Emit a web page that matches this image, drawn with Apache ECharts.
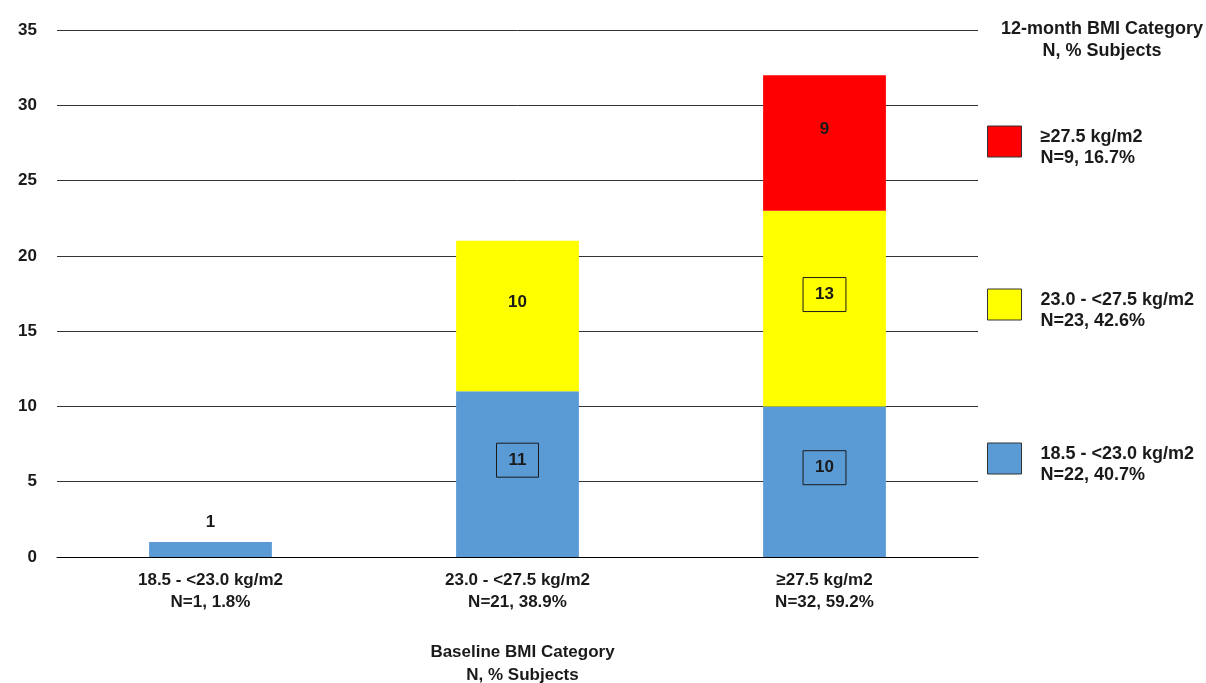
<!DOCTYPE html>
<html>
<head>
<meta charset="utf-8">
<script src="https://cdn.jsdelivr.net/npm/echarts@6/dist/echarts.min.js"></script>
<style>
  html, body { margin: 0; padding: 0; background: #fff; }
  #chart { width: 1206px; height: 683px; }
</style>
</head>
<body>
<div id="chart"></div>
<script>
// Baseline BMI categories (x axis)
const baselineCategories = [
  '18.5 - <23.0 kg/m2\nN=1, 1.8%',
  '23.0 - <27.5 kg/m2\nN=21, 38.9%',
  '\u226527.5 kg/m2\nN=32, 59.2%'
];
// 12-month BMI category counts per baseline category
const seriesNames = ['18.5 - <23.0 kg/m2', '23.0 - <27.5 kg/m2', '\u226527.5 kg/m2'];
const normalCounts = [1, 11, 10];
const overweightCounts = [null, 10, 13];
const obeseCounts = [null, null, 9];
// Legend captions (12-month totals)
const legendCaptions = ['N=22, 40.7%', 'N=23, 42.6%', 'N=9, 16.7%'];
const yTicks = [0, 5, 10, 15, 20, 25, 30, 35];

const FONT = 'Liberation Sans, Arial, sans-serif';
const TXT = '#1a1a1a';
const colors = ['#5b9bd5', '#ffff00', '#ff0000'];

const boxedLabel = {
  borderColor: '#1a1a1a', borderWidth: 1, padding: [9, 12, 8, 12]
};
function seg(values, boxedIdx, topIdx) {
  return values.map((v, i) => {
    if (v == null) return null;
    const item = { value: v };
    if (boxedIdx.includes(i)) item.label = Object.assign({}, boxedLabel);
    if (topIdx.includes(i)) item.label = { position: 'top', offset: [0, -6] };
    return item;
  });
}

const labelBase = {
  show: true, position: 'inside', offset: [0, -14],
  fontFamily: FONT, fontWeight: 'bold', fontSize: 17, color: TXT
};

const chart = echarts.init(document.getElementById('chart'), null, { renderer: 'canvas' });

const legendText = { fontFamily: FONT, fontWeight: 'bold', fontSize: 18, color: TXT, lineHeight: 21 };

function legendAt(name, top) {
  return {
    show: true, selectedMode: false, orient: 'vertical',
    left: 987, top: top, padding: 0,
    itemWidth: 34, itemHeight: 31, icon: 'rect',
    itemStyle: { borderColor: '#333', borderWidth: 1 },
    data: [name],
    // small spacer line above so the caption sits a little below the swatch centre
    formatter: n => '{s| }\n{t|' + n + '}\n{t|' + legendCaptions[seriesNames.indexOf(n)] + '}',
    textStyle: Object.assign({
      padding: [0, 0, 0, 14],
      rich: {
        s: { fontSize: 2, lineHeight: 13 },
        t: Object.assign({}, legendText)
      }
    }, legendText)
  };
}

chart.setOption({
  animation: false,
  backgroundColor: '#fff',
  title: {
    text: '12-month BMI Category\nN, % Subjects',
    left: 1097, top: 13, textAlign: 'center',
    textStyle: { fontFamily: FONT, fontWeight: 'bold', fontSize: 18, color: TXT, lineHeight: 22 }
  },
  legend: [
    legendAt(seriesNames[2], 114),
    legendAt(seriesNames[1], 277),
    legendAt(seriesNames[0], 431)
  ],
  grid: { left: 57, right: 228, top: 30, bottom: 126, containLabel: false, outerBoundsMode: 'none' },
  xAxis: {
    type: 'category',
    data: baselineCategories,
    axisLine: { lineStyle: { color: '#000', width: 1 } },
    axisTick: { show: false },
    axisLabel: {
      margin: 12, fontFamily: FONT, fontWeight: 'bold', fontSize: 17, color: TXT, lineHeight: 22
    },
    name: 'Baseline BMI Category\nN, % Subjects',
    nameLocation: 'middle', nameGap: 84,
    nameTextStyle: { fontFamily: FONT, fontWeight: 'bold', fontSize: 17, color: TXT, lineHeight: 23, padding: [0, 0, 0, 10] }
  },
  yAxis: {
    type: 'value', min: 0, max: 35, interval: 5,
    axisLine: { show: false }, axisTick: { show: false },
    splitLine: { lineStyle: { color: '#333', width: 1 } },
    axisLabel: {
      margin: 20, fontFamily: FONT, fontWeight: 'bold', fontSize: 17, color: TXT,
      formatter: v => yTicks.includes(v) ? String(v) : ''
    }
  },
  series: [
    {
      name: seriesNames[0], type: 'bar', stack: 'bmi', barWidth: '40%',
      itemStyle: { color: colors[0] },
      label: labelBase,
      data: seg(normalCounts, [1, 2], [0])
    },
    {
      name: seriesNames[1], type: 'bar', stack: 'bmi', barWidth: '40%',
      itemStyle: { color: colors[1] },
      label: labelBase,
      data: seg(overweightCounts, [2], [])
    },
    {
      name: seriesNames[2], type: 'bar', stack: 'bmi', barWidth: '40%',
      itemStyle: { color: colors[2] },
      label: labelBase,
      data: seg(obeseCounts, [], [])
    }
  ]
});
</script>
</body>
</html>
